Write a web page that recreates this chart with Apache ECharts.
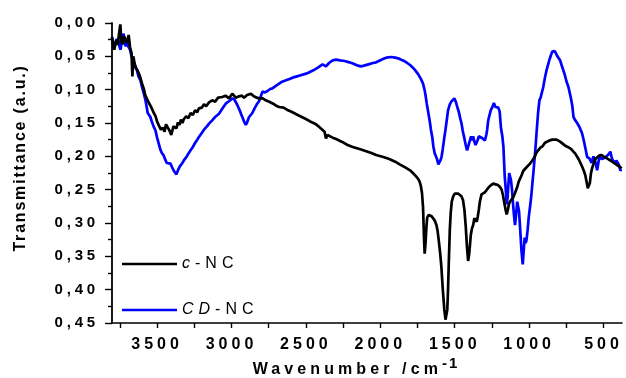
<!DOCTYPE html>
<html><head><meta charset="utf-8">
<script src="https://cdn.jsdelivr.net/npm/echarts@6/dist/echarts.min.js"></script>
<style>html,body{margin:0;padding:0;background:#fff}#c{width:626px;height:378px}</style>
</head><body><div id="c"></div>
<script>
// ---- letter spacing to mimic the wide-set text of the original ----
(function(){
  const p = CanvasRenderingContext2D.prototype;
  if (!('letterSpacing' in p)) return;
  function ls(t){
    const s = String(t);
    if (s.indexOf('Transmittance') >= 0) return '1.8px';
    if (/^0,\d\d$/.test(s)) return '3.8px';
    if (/^\d{3,4}$/.test(s)) return '4px';
    if (s.indexOf('Wavenumber') >= 0) return '4.1px';
    if (s === '-1') return '2px';
    if (s === 'c' || s === 'CD' || s === '-NC') return '5px';
    return '0px';
  }
  const f = p.fillText, m = p.measureText, st = p.strokeText;
  p.fillText = function(t, x, y, w){ this.letterSpacing = ls(t); return w === undefined ? f.call(this, t, x, y) : f.call(this, t, x, y, w); };
  p.strokeText = function(t, x, y, w){ this.letterSpacing = ls(t); return w === undefined ? st.call(this, t, x, y) : st.call(this, t, x, y, w); };
  p.measureText = function(t){ this.letterSpacing = ls(t); return m.call(this, t); };
})();

// ---- data ----
const cncWavenumber = [3803,3795,3788,3775,3765,3755,3747,3740,3731,3722,3713,3703,3691,3682,3672,3666,3660,3650,3640,3630,3615,3601,3590,3580,3567,3555,3542,3532,3522,3510,3500,3489,3475,3462,3450,3440,3428,3415,3405,3399,3390,3381,3370,3360,3350,3340,3330,3320,3305,3290,3275,3260,3245,3230,3219,3200,3185,3170,3151,3130,3110,3090,3062,3040,3017,2995,2971,2950,2930,2916,2895,2870,2850,2830,2814,2790,2770,2747,2720,2700,2680,2650,2620,2590,2545,2500,2460,2432,2410,2390,2375,2365,2355,2342,2320,2297,2260,2220,2185,2140,2100,2060,2028,1980,1940,1900,1870,1830,1800,1781,1760,1745,1736,1728,1720,1713,1707,1702,1696,1690,1685,1675,1668,1655,1646,1635,1623,1615,1608,1598,1590,1580,1570,1562,1556,1550,1545,1540,1533,1527,1520,1510,1500,1488,1476,1466,1455,1444,1435,1426,1418,1410,1402,1392,1384,1376,1368,1360,1352,1345,1338,1331,1320,1310,1298,1286,1270,1255,1241,1225,1210,1196,1185,1176,1168,1160,1151,1143,1135,1126,1117,1108,1095,1080,1070,1061,1050,1040,1030,1016,1005,994,985,972,962,950,938,925,910,895,880,871,860,845,832,815,805,792,775,758,740,724,710,700,690,680,668,655,643,632,623,614,606,599,592,585,576,565,555,544,530,515,500,488,477,465,448,430,410,395,385,378];
const cncTransmittance = [0.021,0.035,0.040,0.025,0.033,0.015,0.002,0.028,0.032,0.020,0.024,0.030,0.018,0.036,0.045,0.080,0.050,0.062,0.068,0.072,0.080,0.091,0.098,0.108,0.111,0.120,0.125,0.122,0.135,0.140,0.148,0.151,0.160,0.157,0.163,0.152,0.157,0.162,0.168,0.166,0.155,0.152,0.158,0.149,0.153,0.145,0.150,0.144,0.140,0.143,0.135,0.138,0.131,0.134,0.128,0.127,0.122,0.125,0.119,0.116,0.118,0.112,0.111,0.109,0.113,0.106,0.112,0.110,0.109,0.112,0.108,0.106,0.110,0.112,0.113,0.113,0.116,0.118,0.121,0.124,0.126,0.127,0.131,0.134,0.139,0.144,0.149,0.152,0.156,0.160,0.163,0.173,0.168,0.171,0.172,0.174,0.178,0.183,0.186,0.189,0.192,0.195,0.198,0.201,0.204,0.208,0.212,0.217,0.221,0.225,0.230,0.234,0.238,0.244,0.255,0.276,0.320,0.346,0.330,0.305,0.292,0.288,0.287,0.290,0.292,0.296,0.303,0.312,0.325,0.345,0.365,0.400,0.430,0.445,0.447,0.430,0.400,0.360,0.310,0.285,0.268,0.260,0.256,0.255,0.256,0.258,0.260,0.266,0.280,0.305,0.335,0.357,0.345,0.318,0.308,0.303,0.293,0.292,0.298,0.290,0.280,0.268,0.257,0.254,0.254,0.251,0.246,0.243,0.241,0.242,0.243,0.246,0.250,0.258,0.268,0.278,0.287,0.280,0.271,0.267,0.267,0.262,0.255,0.246,0.238,0.236,0.228,0.222,0.224,0.216,0.213,0.211,0.209,0.204,0.200,0.194,0.191,0.187,0.185,0.180,0.178,0.179,0.176,0.175,0.176,0.175,0.177,0.178,0.181,0.184,0.186,0.188,0.191,0.193,0.196,0.199,0.204,0.210,0.216,0.222,0.228,0.238,0.248,0.251,0.240,0.226,0.217,0.210,0.204,0.202,0.199,0.198,0.200,0.202,0.203,0.205,0.207,0.210,0.213,0.215,0.217,0.218];

const cdncWavenumber = [3803,3795,3788,3780,3770,3762,3758,3752,3745,3738,3731,3725,3718,3711,3703,3697,3691,3682,3671,3664,3657,3650,3637,3625,3612,3600,3590,3578,3570,3563,3555,3545,3537,3529,3520,3511,3500,3489,3478,3468,3460,3455,3445,3435,3425,3410,3400,3393,3387,3378,3370,3365,3358,3347,3338,3330,3320,3310,3300,3290,3275,3260,3245,3230,3219,3200,3185,3165,3151,3130,3110,3084,3060,3039,3015,2994,2980,2970,2961,2945,2935,2927,2915,2904,2895,2882,2870,2860,2845,2830,2814,2800,2792,2775,2758,2740,2725,2700,2680,2660,2634,2610,2590,2560,2530,2499,2477,2450,2420,2388,2375,2365,2354,2345,2336,2320,2297,2270,2240,2208,2180,2150,2130,2110,2080,2050,2028,2000,1983,1960,1926,1900,1880,1860,1840,1825,1800,1781,1765,1758,1745,1736,1725,1713,1702,1695,1688,1678,1668,1660,1651,1643,1634,1626,1618,1610,1601,1594,1588,1581,1570,1562,1556,1545,1533,1523,1513,1503,1493,1483,1473,1463,1455,1446,1436,1427,1417,1408,1399,1390,1382,1376,1368,1360,1354,1345,1338,1331,1320,1310,1297,1288,1282,1275,1266,1258,1250,1245,1237,1226,1216,1207,1198,1189,1180,1173,1164,1156,1151,1145,1140,1134,1129,1122,1115,1108,1101,1095,1088,1080,1074,1068,1060,1052,1043,1036,1030,1024,1018,1010,1002,994,985,978,972,962,955,949,940,931,923,915,905,893,882,871,862,853,845,837,828,819,810,803,792,782,770,760,750,736,720,710,702,690,677,668,660,655,645,633,622,610,603,595,588,580,576,568,561,553,543,535,528,521,512,500,490,477,466,454,447,441,432,421,414,407,398,387,378];
const cdncTransmittance = [0.021,0.030,0.037,0.034,0.024,0.030,0.026,0.036,0.040,0.028,0.020,0.016,0.030,0.035,0.027,0.034,0.031,0.040,0.050,0.055,0.061,0.066,0.070,0.080,0.086,0.097,0.105,0.116,0.126,0.135,0.138,0.141,0.147,0.150,0.157,0.161,0.172,0.181,0.190,0.195,0.196,0.199,0.205,0.210,0.207,0.211,0.216,0.213,0.222,0.220,0.227,0.226,0.220,0.215,0.217,0.210,0.206,0.204,0.200,0.196,0.191,0.186,0.180,0.175,0.171,0.165,0.160,0.155,0.151,0.146,0.141,0.136,0.128,0.121,0.117,0.113,0.115,0.118,0.123,0.131,0.137,0.141,0.148,0.153,0.149,0.141,0.138,0.135,0.128,0.122,0.117,0.108,0.103,0.104,0.102,0.099,0.098,0.094,0.091,0.088,0.086,0.084,0.082,0.080,0.078,0.076,0.074,0.071,0.067,0.062,0.061,0.065,0.066,0.060,0.057,0.056,0.055,0.056,0.057,0.059,0.061,0.064,0.065,0.064,0.062,0.060,0.059,0.056,0.054,0.052,0.051,0.052,0.053,0.055,0.057,0.059,0.063,0.067,0.071,0.074,0.077,0.080,0.085,0.091,0.101,0.110,0.121,0.134,0.147,0.160,0.171,0.186,0.196,0.200,0.205,0.212,0.214,0.205,0.200,0.190,0.172,0.160,0.150,0.131,0.122,0.118,0.116,0.113,0.118,0.126,0.133,0.143,0.150,0.162,0.172,0.182,0.191,0.184,0.177,0.170,0.176,0.170,0.178,0.183,0.184,0.175,0.170,0.168,0.172,0.170,0.176,0.168,0.160,0.146,0.138,0.131,0.129,0.125,0.120,0.126,0.124,0.127,0.133,0.158,0.170,0.185,0.230,0.253,0.272,0.262,0.244,0.225,0.223,0.236,0.250,0.272,0.290,0.303,0.288,0.268,0.270,0.282,0.310,0.340,0.362,0.340,0.322,0.330,0.326,0.310,0.290,0.276,0.258,0.240,0.226,0.200,0.180,0.161,0.135,0.116,0.112,0.110,0.096,0.081,0.070,0.061,0.054,0.048,0.043,0.041,0.042,0.046,0.050,0.052,0.056,0.063,0.071,0.078,0.087,0.096,0.112,0.124,0.141,0.146,0.150,0.152,0.157,0.156,0.165,0.176,0.188,0.201,0.198,0.203,0.205,0.210,0.206,0.200,0.199,0.210,0.221,0.210,0.200,0.199,0.204,0.205,0.202,0.201,0.197,0.193,0.200,0.205,0.208,0.211,0.206,0.205,0.212,0.221,0.220];

const seriesNames = ['c-NC', 'CD-NC'];
const xMajorTicks = [500, 1000, 1500, 2000, 2500, 3000, 3500];
const xAllTicks = [500, 750, 1000, 1250, 1500, 1750, 2000, 2250, 2500, 2750, 3000, 3250, 3500, 3750];
const xRange = [376, 3803];
const yRange = [0, 0.45];

const zip = (a, b) => a.map((v, i) => [v, b[i]]);
const FF = '"Liberation Sans", Arial, sans-serif';

const chart = echarts.init(document.getElementById('c'), null, {renderer: 'canvas', width: 626, height: 378});
chart.setOption({
  animation: false,
  backgroundColor: '#fff',
  grid: {left: 112, right: 4, top: 23, bottom: 55, outerBoundsMode: 'none', containLabel: false},
  xAxis: {
    type: 'value', inverse: true, min: xRange[0], max: xRange[1], position: 'bottom',
    splitLine: {show: false},
    axisLine: {onZero: false, lineStyle: {color: '#000', width: 1.6}},
    axisTick: {customValues: xAllTicks, length: 5, lineStyle: {color: '#000', width: 1.4}},
    axisLabel: {customValues: xMajorTicks, margin: 14, color: '#000', fontFamily: FF, fontWeight: 'bold', fontSize: 16,
      formatter: v => String(Math.round(v))},
    name: '{a|Wavenumber /cm}{b|-1}', nameLocation: 'middle', nameGap: 33, nameMoveOverlap: false,
    nameTextStyle: {padding: [0, 22, 0, 0], rich: {
      a: {fontFamily: FF, fontWeight: 'bold', fontSize: 16, color: '#000', lineHeight: 22, verticalAlign: 'bottom'},
      b: {fontFamily: FF, fontWeight: 'bold', fontSize: 15, color: '#000', lineHeight: 22, verticalAlign: 'top'}
    }}
  },
  yAxis: {
    type: 'value', inverse: true, min: yRange[0], max: yRange[1], interval: 0.05,
    splitLine: {show: false},
    axisLine: {show: true, onZero: false, lineStyle: {color: '#000', width: 1.8}},
    axisTick: {show: true, length: 7, lineStyle: {color: '#000', width: 1.4}},
    minorTick: {show: true, splitNumber: 2, length: 4, lineStyle: {color: '#000', width: 1.4}},
    axisLabel: {margin: 13, color: '#000', fontFamily: FF, fontWeight: 'bold', fontSize: 15,
      formatter: v => v.toFixed(2).replace('.', ',')},
    name: 'Transmittance (a.u.)', nameLocation: 'middle', nameGap: 83, nameMoveOverlap: false,
    nameTextStyle: {fontFamily: FF, fontWeight: 'bold', fontSize: 16, color: '#000', padding: [0, 0, 0, 30]}
  },
  legend: {
    orient: 'vertical', left: 122, top: 254, padding: 0, itemGap: 26,
    itemWidth: 55, itemHeight: 2.5, icon: 'rect',
    data: seriesNames,
    formatter: n => n === 'c-NC' ? '{i|c}{n|-NC}' : '{i|CD}{n|-NC}',
    textStyle: {fontFamily: FF, fontSize: 16, color: '#000', lineHeight: 20,
      rich: {i: {fontFamily: FF, fontSize: 16, fontStyle: 'italic', color: '#000'},
             n: {fontFamily: FF, fontSize: 16, color: '#000'}}}
  },
  series: [
    {name: seriesNames[0], type: 'line', showSymbol: false, color: '#000000',
     lineStyle: {width: 2.7, color: '#000000'}, data: zip(cncWavenumber, cncTransmittance), z: 3},
    {name: seriesNames[1], type: 'line', showSymbol: false, color: '#0000ff',
     lineStyle: {width: 2.7, color: '#0000ff'}, data: zip(cdncWavenumber, cdncTransmittance), z: 2}
  ]
});
</script></body></html>
